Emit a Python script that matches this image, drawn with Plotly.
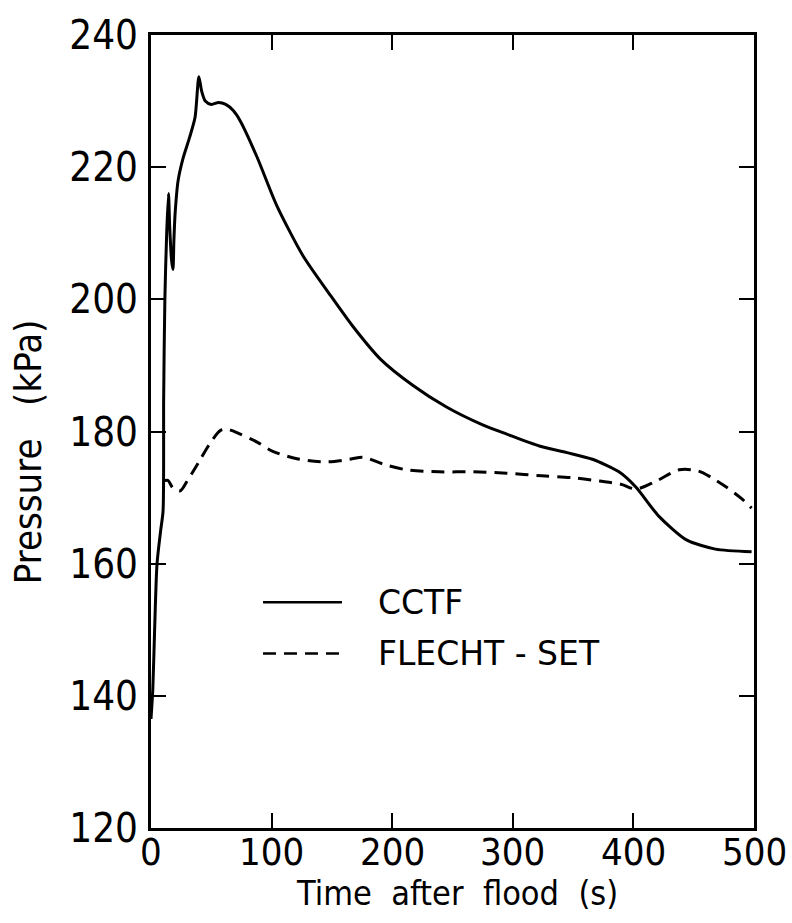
import plotly.graph_objects as go

# CCTF (solid)
cctf_t = [0, 1.5, 3, 5, 8, 10, 10.5, 11.5, 13, 14.5, 15.5, 17, 18.2, 19, 20, 22.5, 26.5,
          32, 36.5, 39.7, 42, 45, 50, 56, 62, 68, 74, 88, 104, 126, 148, 167, 190, 217,
          245, 275, 295, 322, 345, 366, 388, 402, 421, 444, 468, 498]
cctf_p = [136.5, 141, 150, 160, 165, 168, 185, 200, 210, 216, 211, 206, 204.5, 209, 213, 218, 221.3,
          224.5, 227.5, 233.7, 231.5, 230, 229.5, 229.8, 229.5, 228.6, 227.0, 221.5, 214.3, 206.6, 200.8, 196, 191, 187,
          183.7, 181, 179.6, 177.8, 176.8, 175.8, 173.9, 171.6, 167.2, 163.6, 162.2, 161.8]

# FLECHT-SET (dashed)
flecht_t = [10, 14, 18, 24, 30, 40, 50, 58, 64, 74, 88, 101, 123, 146, 165, 176, 192, 212,
            239, 267, 295, 324, 350, 372, 390, 402, 419, 438, 454, 465, 477, 490, 498]
flecht_p = [172.5, 172.6, 171.5, 171.0, 172.5, 175.5, 178.5, 180.2, 180.3, 179.6, 178.4, 177.0, 175.8, 175.4, 175.8, 176.1, 175.1, 174.2,
            173.9, 173.9, 173.7, 173.3, 173.0, 172.5, 172.0, 171.3, 172.5, 174.2, 174.0, 173.0, 171.6, 169.8, 168.4]

series_names = ["CCTF", "FLECHT - SET"]
x_ticks = [0, 100, 200, 300, 400, 500]
y_ticks = [120, 140, 160, 180, 200, 220, 240]
x_title = "Time  after  flood  (s)"
y_title = "Pressure   (kPa)"

FONT = "DejaVu Sans Condensed, DejaVu Sans, sans-serif"
FONT_WIDE = "DejaVu Sans, sans-serif"

fig = go.Figure()
fig.add_trace(go.Scatter(x=cctf_t, y=cctf_p, mode="lines", name=series_names[0], showlegend=False,
                         line=dict(color="black", width=3, shape="spline", smoothing=0.7)))
fig.add_trace(go.Scatter(x=flecht_t, y=flecht_p, mode="lines", name=series_names[1], showlegend=False,
                         line=dict(color="black", width=3, dash="13px,8px", shape="spline", smoothing=0.9)))

axis_common = dict(showgrid=False, zeroline=False, showline=True, linecolor="black", linewidth=3,
                   mirror="ticks", ticks="inside", ticklen=15, tickwidth=2, tickcolor="black")

fig.update_xaxes(range=[0, 500], tickvals=x_ticks, showticklabels=False, **axis_common)
fig.update_yaxes(range=[120, 240], tickvals=y_ticks, ticktext=[str(v) for v in y_ticks],
                 tickfont=dict(family=FONT, size=40, color="black"),
                 ticklabelstandoff=2, **axis_common)

# plot area in pixels: x 151..754, y 24..828
W_PLOT = 603.0
H_PLOT = 804.0

def px_x(p):
    return (p - 151) / W_PLOT

def px_y(p):
    return (828 - p) / H_PLOT

annotations = []
# x tick labels, placed at the data x positions
for v in x_ticks:
    annotations.append(dict(text=str(v), x=v, xref="x", y=px_y(852), yref="paper",
                            xanchor="center", yanchor="middle", showarrow=False,
                            font=dict(family=FONT, size=38, color="black")))
annotations += [
    dict(text=x_title, x=px_x(457), y=px_y(894), xref="paper", yref="paper",
         xanchor="center", yanchor="middle", showarrow=False,
         font=dict(family=FONT, size=34, color="black")),
    dict(text=y_title, x=px_x(28), y=px_y(447), xref="paper", yref="paper",
         xanchor="center", yanchor="middle", showarrow=False, textangle=-90,
         font=dict(family=FONT, size=38, color="black")),
]
shapes = []
legend_rows = [(599, "solid"), (651, "13px,8px")]
for name, (ypix, dash) in zip(series_names, legend_rows):
    shapes.append(dict(type="line", xref="paper", yref="paper",
                       x0=px_x(263), x1=px_x(342), y0=px_y(ypix), y1=px_y(ypix),
                       line=dict(color="black", width=2.5, dash=dash)))
    annotations.append(dict(text=name, x=px_x(376), y=px_y(ypix), xref="paper", yref="paper",
                            xanchor="left", yanchor="middle", showarrow=False,
                            font=dict(family=FONT_WIDE, size=33, color="black")))

fig.update_layout(
    width=792, height=923,
    margin=dict(l=151, r=38, t=24, b=95),
    plot_bgcolor="white", paper_bgcolor="white",
    showlegend=False,
    annotations=annotations,
    shapes=shapes,
)

fig.write_html("out.html")
